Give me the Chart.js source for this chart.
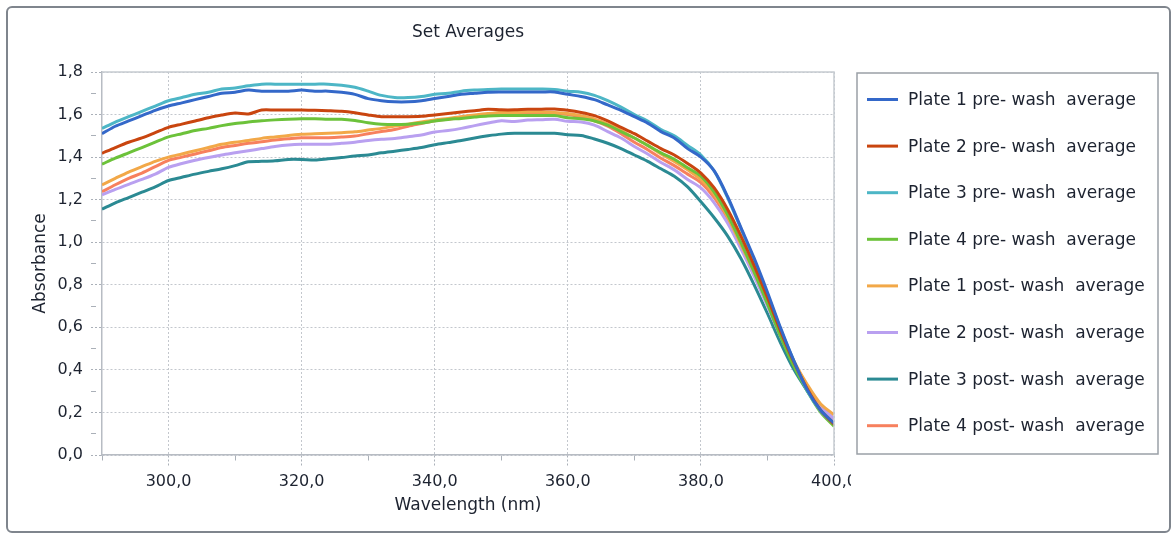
<!DOCTYPE html>
<html>
<head>
<meta charset="utf-8">
<title>Set Averages</title>
<script src="https://cdn.jsdelivr.net/npm/chart.js@4"></script>
<style>
  html, body { margin: 0; padding: 0; background: #fff; }
  #frame {
    position: absolute; left: 6px; top: 6px;
    width: 1161px; height: 523px;
    border: 2px solid #7f858d; border-radius: 6px;
  }
  #wrap { position: absolute; left: 0; top: 0; width: 1176px; height: 534px; }
</style>
</head>
<body>
<div id="frame"></div>
<div id="wrap"><canvas id="chart" width="1176" height="534"></canvas></div>
<script>
// Wavelength (nm) categories
const wavelengths = [290, 292, 294, 296, 298, 300, 302, 304, 306, 308,
    310, 312, 314, 316, 318, 320, 322, 324, 326, 328,
    330, 332, 334, 336, 338, 340, 342, 344, 346, 348,
    350, 352, 354, 356, 358, 360, 362, 364, 366, 368,
    370, 372, 374, 376, 378, 380, 382, 384, 386, 388,
    390, 392, 394, 396, 398, 400];

// Absorbance averages
const plate1Pre = [1.51, 1.545, 1.57, 1.595, 1.62, 1.64, 1.655, 1.67, 1.685, 1.70,
    1.705, 1.715, 1.71, 1.71, 1.71, 1.715, 1.71, 1.71, 1.705, 1.695,
    1.675, 1.665, 1.66, 1.66, 1.665, 1.675, 1.685, 1.695, 1.70, 1.705,
    1.706, 1.706, 1.706, 1.706, 1.706, 1.695, 1.685, 1.67, 1.645, 1.62,
    1.59, 1.56, 1.52, 1.49, 1.44, 1.40, 1.335, 1.215, 1.07, 0.925,
    0.765, 0.595, 0.44, 0.305, 0.21, 0.15];
const plate2Pre = [1.418, 1.445, 1.47, 1.49, 1.515, 1.54, 1.555, 1.57, 1.585, 1.598,
    1.607, 1.603, 1.621, 1.621, 1.621, 1.621, 1.62, 1.618, 1.615, 1.608,
    1.598, 1.59, 1.59, 1.59, 1.592, 1.598, 1.605, 1.612, 1.618, 1.625,
    1.622, 1.622, 1.625, 1.625, 1.626, 1.62, 1.61, 1.595, 1.57, 1.54,
    1.51, 1.475, 1.44, 1.41, 1.37, 1.325, 1.255, 1.155, 1.03, 0.89,
    0.74, 0.58, 0.435, 0.31, 0.21, 0.145];
const plate3Pre = [1.535, 1.565, 1.59, 1.615, 1.64, 1.665, 1.68, 1.695, 1.705, 1.72,
    1.725, 1.735, 1.743, 1.743, 1.743, 1.743, 1.743, 1.743, 1.738, 1.728,
    1.71, 1.69, 1.68, 1.68, 1.685, 1.695, 1.70, 1.71, 1.715, 1.718,
    1.72, 1.72, 1.72, 1.72, 1.718, 1.71, 1.705, 1.69, 1.665, 1.635,
    1.60, 1.57, 1.53, 1.50, 1.455, 1.41, 1.335, 1.21, 1.065, 0.915,
    0.755, 0.59, 0.44, 0.30, 0.205, 0.145];
const plate4Pre = [1.367, 1.395, 1.42, 1.445, 1.47, 1.495, 1.51, 1.525, 1.535, 1.548,
    1.558, 1.565, 1.571, 1.575, 1.578, 1.58, 1.58, 1.578, 1.578, 1.572,
    1.562, 1.555, 1.553, 1.555, 1.56, 1.57, 1.577, 1.582, 1.588, 1.593,
    1.595, 1.595, 1.595, 1.595, 1.595, 1.585, 1.58, 1.57, 1.55, 1.52,
    1.49, 1.455, 1.42, 1.39, 1.35, 1.31, 1.235, 1.13, 1.00, 0.86,
    0.71, 0.555, 0.415, 0.30, 0.20, 0.135];
const plate1Post = [1.269, 1.30, 1.33, 1.355, 1.38, 1.40, 1.415, 1.43, 1.445, 1.46,
    1.47, 1.478, 1.488, 1.495, 1.502, 1.507, 1.51, 1.512, 1.515, 1.519,
    1.527, 1.535, 1.546, 1.555, 1.565, 1.575, 1.582, 1.59, 1.598, 1.605,
    1.61, 1.61, 1.612, 1.612, 1.61, 1.605, 1.595, 1.58, 1.555, 1.525,
    1.49, 1.455, 1.415, 1.38, 1.34, 1.295, 1.225, 1.12, 0.99, 0.86,
    0.72, 0.575, 0.44, 0.33, 0.24, 0.19];
const plate2Post = [1.222, 1.248, 1.272, 1.295, 1.32, 1.352, 1.37, 1.385, 1.398, 1.41,
    1.42, 1.43, 1.44, 1.45, 1.457, 1.46, 1.46, 1.461, 1.465, 1.47,
    1.478, 1.484, 1.488, 1.496, 1.504, 1.518, 1.525, 1.535, 1.548, 1.56,
    1.571, 1.567, 1.574, 1.576, 1.578, 1.568, 1.565, 1.55, 1.52, 1.49,
    1.45, 1.415, 1.375, 1.34, 1.295, 1.255, 1.185, 1.09, 0.97, 0.84,
    0.70, 0.555, 0.425, 0.32, 0.23, 0.17];
const plate3Post = [1.155, 1.185, 1.21, 1.235, 1.26, 1.29, 1.305, 1.32, 1.333, 1.345,
    1.36, 1.378, 1.38, 1.383, 1.389, 1.389, 1.386, 1.392, 1.398, 1.405,
    1.41, 1.42, 1.428, 1.436, 1.445, 1.458, 1.468, 1.478, 1.49, 1.50,
    1.508, 1.512, 1.512, 1.512, 1.512, 1.505, 1.502, 1.485, 1.465, 1.44,
    1.41, 1.38, 1.345, 1.31, 1.26, 1.19, 1.115, 1.03, 0.925, 0.80,
    0.665, 0.525, 0.40, 0.30, 0.21, 0.14];
const plate4Post = [1.237, 1.27, 1.30, 1.325, 1.355, 1.385, 1.40, 1.415, 1.43, 1.445,
    1.455, 1.465, 1.472, 1.48, 1.486, 1.491, 1.491, 1.491, 1.494, 1.499,
    1.51, 1.52, 1.53, 1.545, 1.558, 1.571, 1.578, 1.588, 1.595, 1.602,
    1.606, 1.606, 1.608, 1.608, 1.605, 1.60, 1.588, 1.57, 1.545, 1.51,
    1.47, 1.435, 1.395, 1.36, 1.32, 1.28, 1.21, 1.11, 0.985, 0.85,
    0.71, 0.565, 0.43, 0.32, 0.23, 0.17];

const seriesLabels = [
    'Plate 1 pre- wash  average',
    'Plate 2 pre- wash  average',
    'Plate 3 pre- wash  average',
    'Plate 4 pre- wash  average',
    'Plate 1 post- wash  average',
    'Plate 2 post- wash  average',
    'Plate 3 post- wash  average',
    'Plate 4 post- wash  average'
];
const seriesValues = [plate1Pre, plate2Pre, plate3Pre, plate4Pre,
    plate1Post, plate2Post, plate3Post, plate4Post];
const seriesColors = ['#3468c9', '#c9450f', '#4db6c6', '#6cc23a',
    '#f2a848', '#b9a0f0', '#2b8a93', '#f7805e'];

const TEXT = '#1d2330';
const FAMILY = '"DejaVu Sans", Verdana, sans-serif';
const TICK_FONT = { family: FAMILY, size: 16 };
const LABEL_FONT = { family: FAMILY, size: 17 };

const isMajorY = (c) => c.tick && Math.round(c.tick.value * 10) % 2 === 0;
const isMajorX = (c) => c.tick && Math.round(c.tick.value) % 20 === 0;
const fmt = (v) => v.toFixed(1).replace('.', ',');

// Title, plot frame and boxed legend
const decorations = {
    id: 'decorations',
    afterDraw(chart) {
        const { ctx, chartArea: a } = chart;
        ctx.save();
        ctx.strokeStyle = '#c6cbd1';
        ctx.lineWidth = 1.5;
        ctx.beginPath();
        ctx.moveTo(a.left, a.top);
        ctx.lineTo(a.right, a.top);
        ctx.lineTo(a.right, a.bottom);
        ctx.stroke();

        ctx.font = `${LABEL_FONT.size}px ${FAMILY}`;
        ctx.fillStyle = TEXT;
        ctx.textAlign = 'center';
        ctx.textBaseline = 'middle';
        ctx.fillText('Set Averages', (a.left + a.right) / 2, 33);

        // the last x label is cut by the legend panel
        ctx.fillStyle = '#fff';
        ctx.fillRect(851, a.bottom + 2, 20, 40);

        ctx.strokeStyle = '#9aa0a7';
        ctx.lineWidth = 1.5;
        ctx.strokeRect(857, 73, 301, 381);

        ctx.textAlign = 'left';
        chart.data.datasets.forEach((ds, i) => {
            const y = 99.5 + i * 46.6;
            ctx.strokeStyle = ds.borderColor;
            ctx.lineWidth = 3;
            ctx.beginPath();
            ctx.moveTo(867, y);
            ctx.lineTo(898, y);
            ctx.stroke();
            ctx.fillStyle = TEXT;
            ctx.fillText(ds.label, 908, y + 1);
        });
        ctx.restore();
    }
};

new Chart(document.getElementById('chart'), {
    type: 'line',
    data: {
        datasets: seriesLabels.map((label, i) => ({
            label,
            data: wavelengths.map((w, j) => ({ x: w, y: seriesValues[i][j] })),
            borderColor: seriesColors[i],
            backgroundColor: seriesColors[i],
            borderWidth: 3,
            pointRadius: 0,
            tension: 0.3,
            fill: false
        }))
    },
    options: {
        responsive: false,
        animation: false,
        layout: { padding: { top: 72, right: 342, bottom: 0, left: 0 } },
        plugins: {
            legend: { display: false },
            title: { display: false },
            tooltip: { enabled: false }
        },
        scales: {
            x: {
                type: 'linear',
                min: 290,
                max: 400,
                afterFit: (s) => { s.height = 79; },
                ticks: {
                    stepSize: 10,
                    autoSkip: false,
                    maxRotation: 0,
                    padding: 6,
                    color: TEXT,
                    font: TICK_FONT,
                    callback: (v) => (Math.round(v) % 20 === 0 ? fmt(v) : '')
                },
                grid: {
                    color: (c) => (isMajorX(c) ? '#c3c7cd' : 'rgba(0,0,0,0)'),
                    tickColor: '#aab0b8',
                    tickLength: 11,
                    tickBorderDash: (c) => (isMajorX(c) ? [2, 2] : [5, 30])
                },
                border: { color: '#b7bcc3', width: 1.5, dash: [2, 2] },
                title: {
                    display: true,
                    text: 'Wavelength (nm)',
                    color: TEXT,
                    font: LABEL_FONT,
                    padding: { top: 0, bottom: 18 }
                }
            },
            y: {
                min: 0,
                max: 1.8,
                afterFit: (s) => { s.width = 102; },
                ticks: {
                    stepSize: 0.1,
                    autoSkip: false,
                    padding: 8,
                    color: TEXT,
                    font: TICK_FONT,
                    callback: (v) => (Math.round(v * 10) % 2 === 0 ? fmt(v) : '')
                },
                grid: {
                    color: (c) => (isMajorY(c) ? '#c3c7cd' : 'rgba(0,0,0,0)'),
                    tickColor: '#aab0b8',
                    tickLength: 11,
                    tickBorderDash: (c) => (isMajorY(c) ? [2, 2] : [5, 30])
                },
                border: { color: '#b7bcc3', width: 1.5, dash: [2, 2] },
                title: {
                    display: true,
                    text: 'Absorbance',
                    color: TEXT,
                    font: LABEL_FONT,
                    padding: { top: 30, bottom: 0 }
                }
            }
        }
    },
    plugins: [decorations]
});
</script>
</body>
</html>
